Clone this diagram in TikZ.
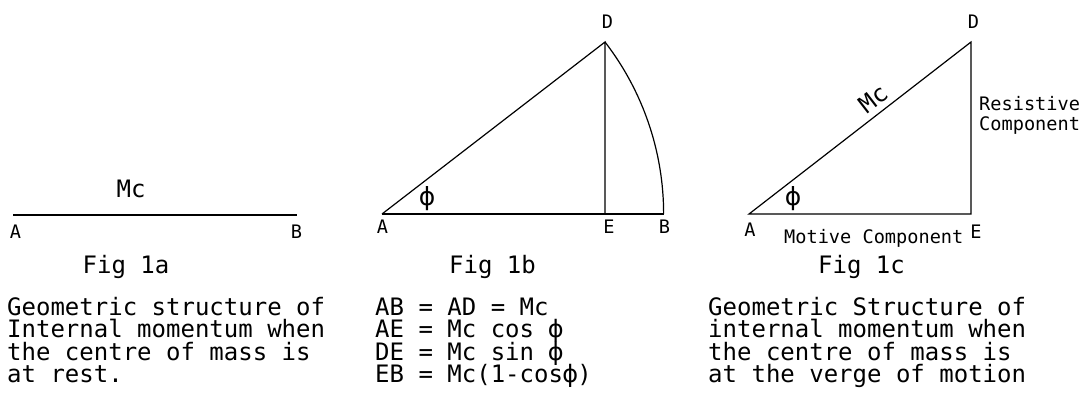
\documentclass[tikz,border=0pt]{standalone}
\usepackage{fontspec}
\setmainfont{DejaVu Sans Mono}
\newfontfamily\phifont{DejaVu Sans}
\newcommand{\phisym}{\makebox[0.602em]{\phifont ϕ}}
\tikzset{
  txtbody/.style={inner sep=0pt, font=\fontsize{24}{28}\selectfont},
  txtline/.style={txtbody, text height=16pt, text depth=4pt},
  txtsmall/.style={inner sep=0pt, font=\fontsize{18.6}{22}\selectfont},
  phinode/.style={inner sep=0pt, font=\fontsize{25}{28}\phifont},
  geo/.style={line width=1.2pt, line join=miter},
}
\begin{document}
\begin{tikzpicture}[x=1pt,y=-1pt]
\useasboundingbox (0,0) rectangle (1087,392);

% ---------------- Fig 1a ----------------
\coordinate (aA) at (13,215);
\coordinate (aB) at (297,215);
\draw[geo] (aA) -- (aB);
\node[txtsmall, anchor=base] (aAl) at (15.5,238) {A};
\node[txtsmall, anchor=base] (aBl) at (296.5,238) {B};
\node[txtbody, anchor=base] (aMc) at (131,197) {Mc};
\node[txtbody, anchor=base] (aFig) at (126,273) {Fig 1a};
\node[txtline, anchor=base west] (at1) at (7,315) {Geometric structure of};
\node[txtline, anchor=base west] (at2) at (7,337.5) {Internal momentum when};
\node[txtline, anchor=base west] (at3) at (7,360) {the centre of mass is};
\node[txtline, anchor=base west] (at4) at (7,382.5) {at rest.};

% ---------------- Fig 1b ----------------
\coordinate (bA) at (382,214);
\coordinate (bE) at (605,214);
\coordinate (bB) at (663.6,214);
\coordinate (bD) at (605,42);
\draw[geo] (bA) -- (bD) -- (bE);
\draw[geo] (bA) -- (bB);
\draw[geo] (bD) arc[start angle=-37.64, end angle=0, radius=281.6];
\node[txtsmall, anchor=base] (bAl) at (382.5,233) {A};
\node[txtsmall, anchor=base] (bEl) at (609,233) {E};
\node[txtsmall, anchor=base] (bBl) at (664.5,233) {B};
\node[txtsmall, anchor=base] (bDl) at (607.5,28) {D};
\node[phinode] (bphi) at (427,199) {ϕ};
\node[txtbody, anchor=base] (bFig) at (492.5,273) {Fig 1b};
\node[txtline, anchor=base west] (be1) at (375,315) {AB = AD = Mc};
\node[txtline, anchor=base west] (be2) at (375,337.5) {AE = Mc cos \phisym};
\node[txtline, anchor=base west] (be3) at (375,360) {DE = Mc sin \phisym};
\node[txtline, anchor=base west] (be4) at (375,382.5) {EB = Mc(1-cos\phisym)};

% ---------------- Fig 1c ----------------
\coordinate (cA) at (749,214);
\coordinate (cE) at (971,214);
\coordinate (cD) at (971,42);
\draw[geo] (cA) -- (cD) -- (cE) -- cycle;
\node[txtsmall, anchor=base] (cAl) at (750,236) {A};
\node[txtsmall, anchor=base] (cEl) at (976,238) {E};
\node[txtsmall, anchor=base] (cDl) at (973.5,28) {D};
\node[phinode] (cphi) at (793,199) {ϕ};
\node[txtbody, rotate=37.77] (cMc) at (873,99) {Mc};
\node[txtsmall, anchor=base west] (cRes1) at (979,110) {Resistive};
\node[txtsmall, anchor=base west] (cRes2) at (979,130) {Component};
\node[txtsmall, anchor=base west] (cMot) at (784,243) {Motive Component};
\node[txtbody, anchor=base] (cFig) at (861.5,273) {Fig 1c};
\node[txtline, anchor=base west] (ct1) at (708,315) {Geometric Structure of};
\node[txtline, anchor=base west] (ct2) at (708,337.5) {internal momentum when};
\node[txtline, anchor=base west] (ct3) at (708,360) {the centre of mass is};
\node[txtline, anchor=base west] (ct4) at (708,382.5) {at the verge of motion};
\end{tikzpicture}
\end{document}
